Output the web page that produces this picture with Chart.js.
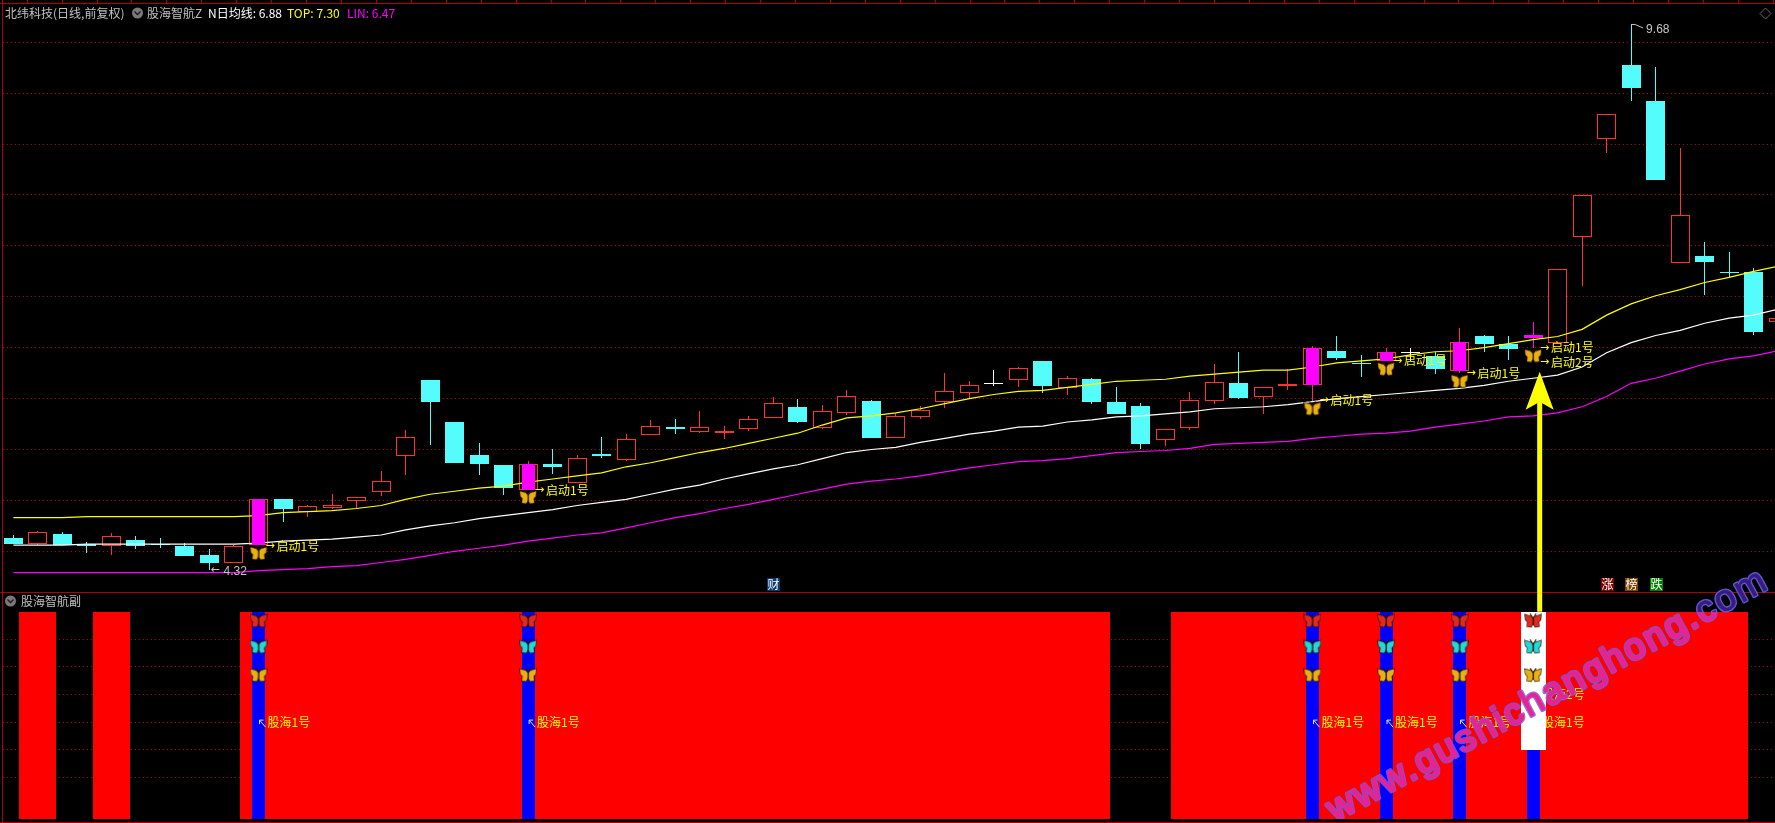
<!DOCTYPE html>
<html>
<head>
<meta charset="utf-8">
<title>北纬科技</title>
<style>
html, body { margin: 0; padding: 0; background: #000; overflow: hidden; }
canvas { display: block; }
</style>
<script src="https://cdn.jsdelivr.net/npm/chart.js@4/dist/chart.umd.js"></script>
</head>
<body>
<canvas id="kline" width="1775" height="823"></canvas>
<script>
const opens = [
    4.63, 4.57, 4.67, 4.57, 4.55, 4.61, 4.57, 4.55, 4.46, 4.38,
    4.56, 5.01, 4.89, 4.93, 4.99, 5.08, 5.44, 6.18, 5.77, 5.45,
    5.35, 5.10, 5.36, 5.17, 5.46, 5.40, 5.64, 5.72, 5.67, 5.66,
    5.70, 5.81, 5.92, 5.71, 5.86, 5.98, 5.61, 5.82, 5.97, 6.05,
    6.15, 6.18, 6.37, 6.10, 6.19, 5.97, 5.93, 5.59, 5.71, 5.98,
    6.15, 6.02, 6.12, 6.13, 6.47, 6.35, 6.37, 6.46, 6.42, 6.27,
    6.61, 6.54, 6.60, 6.55, 7.59, 8.55, 9.28, 8.92, 7.33, 7.40,
    7.24, 7.24, 6.75
];
const closes = [
    4.57, 4.69, 4.56, 4.55, 4.65, 4.55, 4.57, 4.45, 4.38, 4.55,
    5.01, 4.92, 4.94, 4.95, 5.03, 5.19, 5.62, 5.97, 5.37, 5.36,
    5.12, 5.36, 5.33, 5.42, 5.44, 5.60, 5.73, 5.70, 5.72, 5.68,
    5.80, 5.96, 5.77, 5.88, 6.03, 5.61, 5.83, 5.89, 6.07, 6.13,
    6.15, 6.30, 6.12, 6.20, 5.97, 5.85, 5.55, 5.70, 5.99, 6.16,
    6.01, 6.11, 6.14, 6.50, 6.40, 6.34, 6.46, 6.46, 6.29, 6.56,
    6.54, 6.49, 6.62, 7.27, 8.00, 8.80, 9.05, 8.15, 7.80, 7.34,
    7.24, 6.65, 6.79
];
const highs = [
    4.66, 4.70, 4.69, 4.59, 4.68, 4.65, 4.63, 4.58, 4.52, 4.56,
    5.01, 5.01, 4.95, 5.06, 5.03, 5.29, 5.69, 6.18, 5.77, 5.56,
    5.35, 5.39, 5.50, 5.45, 5.62, 5.65, 5.79, 5.80, 5.88, 5.73,
    5.83, 6.02, 6.00, 5.94, 6.08, 5.99, 5.86, 5.93, 6.25, 6.17,
    6.28, 6.31, 6.37, 6.22, 6.20, 6.11, 5.96, 5.70, 6.06, 6.34,
    6.46, 6.11, 6.29, 6.52, 6.61, 6.43, 6.50, 6.50, 6.46, 6.69,
    6.62, 6.61, 6.75, 7.27, 8.00, 8.80, 9.68, 9.26, 8.46, 7.54,
    7.44, 7.28, 6.79
];
const lows = [
    4.57, 4.56, 4.56, 4.48, 4.46, 4.52, 4.53, 4.45, 4.32, 4.38,
    4.56, 4.79, 4.84, 4.92, 4.92, 5.04, 5.25, 5.54, 5.37, 5.25,
    5.05, 5.10, 5.26, 5.17, 5.42, 5.39, 5.64, 5.65, 5.66, 5.60,
    5.68, 5.81, 5.76, 5.70, 5.84, 5.61, 5.61, 5.80, 5.91, 6.00,
    6.12, 6.11, 6.05, 6.04, 5.95, 5.85, 5.50, 5.53, 5.69, 5.95,
    6.00, 5.85, 6.08, 5.98, 6.38, 6.21, 6.37, 6.37, 6.24, 6.25,
    6.46, 6.38, 6.50, 6.55, 7.11, 8.41, 8.92, 8.15, 7.33, 7.02,
    7.19, 6.62, 6.75
];
const topLine = [
    4.83, 4.83, 4.83, 4.84, 4.84, 4.84, 4.84, 4.84, 4.84, 4.84,
    4.85, 4.88, 4.89, 4.90, 4.92, 4.95, 5.01, 5.06, 5.09, 5.12,
    5.14, 5.18, 5.21, 5.24, 5.27, 5.33, 5.37, 5.42, 5.47, 5.51,
    5.56, 5.61, 5.66, 5.74, 5.81, 5.83, 5.86, 5.90, 5.95, 6.00,
    6.04, 6.07, 6.08, 6.11, 6.14, 6.17, 6.18, 6.19, 6.22, 6.24,
    6.26, 6.28, 6.28, 6.31, 6.35, 6.37, 6.39, 6.43, 6.46, 6.47,
    6.50, 6.54, 6.58, 6.61, 6.68, 6.82, 6.93, 7.01, 7.07, 7.14,
    7.19, 7.25, 7.30
];
const maLine = [
    4.56, 4.56, 4.56, 4.57, 4.57, 4.57, 4.57, 4.57, 4.57, 4.57,
    4.58, 4.60, 4.61, 4.62, 4.64, 4.66, 4.71, 4.75, 4.78, 4.82,
    4.85, 4.88, 4.91, 4.95, 4.98, 5.01, 5.06, 5.11, 5.15, 5.21,
    5.26, 5.31, 5.35, 5.41, 5.47, 5.50, 5.52, 5.57, 5.61, 5.65,
    5.68, 5.72, 5.73, 5.77, 5.79, 5.82, 5.83, 5.85, 5.87, 5.90,
    5.91, 5.92, 5.94, 5.97, 6.00, 6.02, 6.04, 6.06, 6.08, 6.10,
    6.13, 6.17, 6.20, 6.23, 6.31, 6.45, 6.55, 6.62, 6.67, 6.74,
    6.79, 6.82, 6.88
];
const linLine = [
    4.29, 4.29, 4.29, 4.29, 4.29, 4.29, 4.29, 4.29, 4.29, 4.29,
    4.31, 4.32, 4.33, 4.35, 4.36, 4.39, 4.42, 4.46, 4.50, 4.53,
    4.56, 4.60, 4.63, 4.66, 4.68, 4.73, 4.78, 4.83, 4.87, 4.92,
    4.96, 5.01, 5.06, 5.11, 5.16, 5.19, 5.21, 5.24, 5.28, 5.32,
    5.35, 5.38, 5.39, 5.41, 5.44, 5.47, 5.48, 5.49, 5.51, 5.55,
    5.56, 5.57, 5.58, 5.61, 5.63, 5.65, 5.66, 5.68, 5.72, 5.75,
    5.78, 5.82, 5.83, 5.86, 5.92, 6.02, 6.15, 6.20, 6.27, 6.34,
    6.39, 6.42, 6.47
];
const whiteDays = [40, 57];
const signalDays = [10, 21, 53, 56, 59];
const flyDays = [10, 21, 53, 56, 59, 62];
const flyPrices = [4.48, 5.03, 5.90, 6.29, 6.17, 6.42];
const qidongDays = [10, 21, 53, 56, 59, 62, 62];
const qidongPrices = [4.55, 5.10, 5.98, 6.37, 6.25, 6.50, 6.36];
const qidongTexts = ['启动1号', '启动1号', '启动1号', '启动1号', '启动1号', '启动1号', '启动2号'];

const redDays = [
    1, 4,
    10, 11, 12, 13, 14, 15, 16, 17, 18, 19, 20, 21, 22, 23, 24, 25, 26, 27,
    28, 29, 30, 31, 32, 33, 34, 35, 36, 37, 38, 39, 40, 41, 42, 43, 44,
    48, 49, 50, 51, 52, 53, 54, 55, 56, 57, 58, 59, 60, 61, 62, 63, 64, 65,
    66, 67, 68, 69, 70
];
const blueDays = [10, 21, 53, 56, 59, 62];
const whiteBoxDays = [62];
const redFlyLevel = 6.67, cyanFlyLevel = 5.73, goldFlyLevel = 4.70;
const guhaiDays = [10, 21, 53, 56, 59, 62, 62];
const guhaiLevels = [3, 3, 3, 3, 3, 3, 4];
const guhaiTexts = ['股海1号', '股海1号', '股海1号', '股海1号', '股海1号', '股海1号', '股海2号'];
const badgeDays = [31, 65, 66, 67];
const badgeTexts = ['财', '涨', '榜', '跌'];
const badgeColors = ['#0a3a70', '#800000', '#804000', '#008000'];

const RED = '#ff3232', CYAN = '#54fcfc', MAGENTA = '#ff00ff', YELLOW = '#ffff00';
const AXIS_RED = '#b00000', GRID_RED = '#b00000';
const CJK = '12px "Noto Sans CJK SC", sans-serif';

const dayIndex = opens.map((v, i) => i);

function butterfly(color) {
    const c = document.createElement('canvas');
    c.width = 18; c.height = 15;
    const g = c.getContext('2d');
    g.strokeStyle = '#2a1400';
    g.fillStyle = color;
    g.lineWidth = 1.3;
    [1, -1].forEach(s => {
        g.save();
        g.translate(9, 0);
        g.scale(s, 1);
        g.beginPath();
        g.moveTo(0, 5.5);
        g.lineTo(2.5, 3);
        g.lineTo(8, 1.5);
        g.lineTo(7.5, 6.5);
        g.lineTo(5.5, 8.5);
        g.lineTo(6, 13);
        g.lineTo(2, 13.5);
        g.lineTo(0, 10);
        g.closePath();
        g.stroke();
        g.fill();
        g.beginPath();
        g.moveTo(0, 5);
        g.lineTo(3, 0.5);
        g.stroke();
        g.restore();
    });
    g.fillStyle = '#2a1400';
    g.fillRect(8.5, 4, 1, 8);
    return c;
}

function bar(label, order, yAxisID, width, data, bg, border, borderW) {
    return {
        type: 'bar', label, order, yAxisID, data,
        barThickness: width,
        grouped: false,
        inflateAmount: 0,
        backgroundColor: bg,
        borderColor: border || bg,
        borderWidth: borderW || 0,
        borderSkipped: false
    };
}

function line(label, order, data, color) {
    return {
        type: 'line', label, order,
        yAxisID: 'y',
        data: data.map((v, i) => ({ x: i, y: v })),
        borderColor: color,
        borderWidth: 1.2,
        pointRadius: 0,
        tension: 0
    };
}

function flies(label, order, yAxisID, data, color) {
    return {
        type: 'scatter', label, order, yAxisID, data,
        pointStyle: butterfly(color),
        pointRadius: 8
    };
}

function upColor(i) {
    if (i === 62) return MAGENTA;
    if (whiteDays.includes(i)) return '#ffffff';
    return closes[i] > opens[i] ? RED : CYAN;
}

// candles sit on whole pixels like the terminal draws them
const snapBars = {
    id: 'snapBars',
    afterDatasetsUpdate(chart) {
        chart.getSortedVisibleDatasetMetas().forEach(meta => {
            if (meta.type !== 'bar') return;
            meta.data.forEach(el => {
                el.x = Math.floor(el.x) + 0.5;
                el.y = Math.round(el.y);
                el.base = Math.round(el.base);
                if (el.y === el.base) el.base = el.y + 1;
                el.height = el.base - el.y;
            });
        });
    }
};

function drawGuhai(chart) {
    const ctx = chart.ctx, xs = chart.scales.x, ys = chart.scales.y2;
    ctx.save();
    ctx.textBaseline = 'middle';
    guhaiDays.forEach((d, i) => {
        const px = xs.getPixelForValue(d), py = ys.getPixelForValue(guhaiLevels[i]);
        ctx.font = CJK;
        ctx.fillStyle = YELLOW;
        ctx.fillText(guhaiTexts[i], px + 9, py);
        ctx.strokeStyle = '#d8e8ff';
        ctx.lineWidth = 1;
        ctx.beginPath();
        ctx.moveTo(px + 7, py + 5);
        ctx.lineTo(px + 1, py - 2);
        ctx.moveTo(px + 1, py - 2);
        ctx.lineTo(px + 1, py + 2);
        ctx.moveTo(px + 1, py - 2);
        ctx.lineTo(px + 5, py - 2);
        ctx.stroke();
    });
    ctx.restore();
}

function drawChrome(chart) {
    const ctx = chart.ctx, W = chart.width;
    ctx.save();
    ctx.fillStyle = AXIS_RED;
    ctx.fillRect(2, 0, 1, 823);
    ctx.fillRect(0, 3, W, 1);
    ctx.fillRect(0, 592, W, 1);
    ctx.fillRect(0, 822, W, 1);
    for (let x = 26.7; x < W; x += 34.92) ctx.fillRect(Math.round(x), 0, 1, 3);

    ctx.strokeStyle = '#666';
    ctx.beginPath();
    ctx.moveTo(1765.5, 8); ctx.lineTo(1771, 13.5); ctx.lineTo(1765.5, 19); ctx.lineTo(1760, 13.5);
    ctx.closePath();
    ctx.stroke();

    [[137.5, 13], [10.5, 601]].forEach(p => {
        ctx.fillStyle = '#7a7a7a';
        ctx.beginPath();
        ctx.arc(p[0], p[1], 5.5, 0, Math.PI * 2);
        ctx.fill();
        ctx.strokeStyle = '#1a1a1a';
        ctx.lineWidth = 1.3;
        ctx.beginPath();
        ctx.moveTo(p[0] - 3, p[1] - 1.5); ctx.lineTo(p[0], p[1] + 1.5); ctx.lineTo(p[0] + 3, p[1] - 1.5);
        ctx.stroke();
    });

    ctx.textBaseline = 'middle';
    ctx.font = CJK;
    ctx.fillStyle = '#c0c0c0';
    ctx.fillText('北纬科技(日线,前复权)', 5, 13);
    ctx.fillText('股海智航Z', 147, 13);
    ctx.fillText('股海智航副', 21, 601);
    ctx.fillStyle = '#ffffff';
    ctx.fillText('N日均线: ' + maLine[maLine.length - 1].toFixed(2), 208, 13);
    ctx.fillStyle = YELLOW;
    ctx.fillText('TOP: ' + topLine[topLine.length - 1].toFixed(2), 287, 13);
    ctx.fillStyle = MAGENTA;
    ctx.fillText('LIN: ' + linLine[linLine.length - 1].toFixed(2), 347, 13);
    ctx.restore();
}

function drawMainLabels(chart) {
    const ctx = chart.ctx, xs = chart.scales.x, ys = chart.scales.y;
    ctx.save();
    ctx.textBaseline = 'middle';
    qidongDays.forEach((d, i) => {
        const px = xs.getPixelForValue(d), py = ys.getPixelForValue(qidongPrices[i]);
        ctx.font = '11px "DejaVu Sans", sans-serif';
        ctx.fillStyle = YELLOW;
        ctx.fillText('→', px + 7, py);
        ctx.font = CJK;
        ctx.fillText(qidongTexts[i], px + 18, py);
    });

    // marks for lowest and highest price
    const loDay = lows.indexOf(Math.min(...lows)), hiDay = highs.indexOf(Math.max(...highs));
    const grey = '#c4c4c4';
    ctx.fillStyle = grey;
    ctx.font = '11px "DejaVu Sans", sans-serif';
    ctx.fillText('←', xs.getPixelForValue(loDay) + 1, ys.getPixelForValue(lows[loDay]) + 1);
    ctx.font = '12px "Liberation Sans", sans-serif';
    ctx.fillText(lows[loDay].toFixed(2), xs.getPixelForValue(loDay) + 14, ys.getPixelForValue(lows[loDay]) + 2);
    const hx = xs.getPixelForValue(hiDay), hy = ys.getPixelForValue(highs[hiDay]);
    ctx.strokeStyle = grey;
    ctx.lineWidth = 1;
    ctx.beginPath();
    ctx.moveTo(hx, hy + 0.5); ctx.lineTo(hx + 4, hy + 0.5); ctx.lineTo(hx + 12, hy + 4);
    ctx.stroke();
    ctx.fillText(highs[hiDay].toFixed(2), hx + 15, hy + 6);

    badgeDays.forEach((d, i) => {
        const px = Math.round(xs.getPixelForValue(d)) + 1;
        ctx.fillStyle = badgeColors[i];
        ctx.fillRect(px - 7, 578, 13, 13);
        ctx.fillStyle = '#ffffff';
        ctx.font = CJK;
        ctx.textAlign = 'center';
        ctx.fillText(badgeTexts[i], px - 0.5, 584.5);
        ctx.textAlign = 'left';
    });
    ctx.restore();
}

function drawArrow(chart) {
    const ctx = chart.ctx, xs = chart.scales.x;
    const px = xs.getPixelForValue(62.27);
    const tip = chart.scales.y.getPixelForValue(6.264);
    const tail = chart.scales.y2.getPixelForValue(7);
    ctx.save();
    ctx.fillStyle = YELLOW;
    ctx.fillRect(px - 2.5, tip + 30, 5, tail - tip - 30);
    ctx.beginPath();
    ctx.moveTo(px, tip);
    ctx.lineTo(px + 14, tip + 38);
    ctx.lineTo(px, tip + 30);
    ctx.lineTo(px - 14, tip + 38);
    ctx.closePath();
    ctx.fill();
    ctx.restore();
}

function watermarkPass(ctx, fill, edge) {
    ctx.save();
    ctx.translate(1335, 822);
    ctx.rotate(-28.3 * Math.PI / 180);
    ctx.font = '37px "Liberation Sans", sans-serif';
    ctx.letterSpacing = '2.5px';
    ctx.lineJoin = 'round';
    ctx.strokeStyle = edge;
    ctx.lineWidth = 3.5;
    ctx.strokeText('www.gushichanghong.com', 0, 0);
    ctx.strokeStyle = fill;
    ctx.lineWidth = 0.8;
    ctx.strokeText('www.gushichanghong.com', 0, 0);
    ctx.fillStyle = fill;
    ctx.fillText('www.gushichanghong.com', 0, 0);
    ctx.restore();
}

function drawWatermark(chart) {
    const ctx = chart.ctx;
    const redRight = chart.scales.x.getPixelForValue(70) + 18.5;
    // on red it reads hot pink, on black dark indigo
    ctx.save();
    ctx.beginPath();
    ctx.rect(0, 612, redRight, 207);
    ctx.clip();
    watermarkPass(ctx, '#ee2090', 'rgba(120,90,230,0.85)');
    ctx.restore();
    ctx.save();
    ctx.beginPath();
    ctx.rect(0, 0, 1775, 612);
    ctx.rect(redRight, 612, 1775, 211);
    ctx.clip();
    watermarkPass(ctx, '#3a1a80', '#5a5ad0');
    ctx.restore();
}

const panelText = {
    id: 'panelText',
    afterDatasetDraw(chart, args) {
        if (chart.data.datasets[args.index].label === 'blue') drawGuhai(chart);
    },
    afterDatasetsDraw(chart) {
        drawMainLabels(chart);
        drawChrome(chart);
        drawArrow(chart);
        drawWatermark(chart);
    }
};

const blackBg = {
    id: 'blackBg',
    beforeDraw(chart) {
        chart.ctx.fillStyle = '#000';
        chart.ctx.fillRect(0, 0, chart.width, chart.height);
    }
};

const gridOpts = {
    color: c => (c.tick && (c.tick.value < 0.5 || c.tick.value > 6.5) && c.scale.id === 'y2') ? 'rgba(0,0,0,0)' : GRID_RED,
    drawTicks: false,
    lineWidth: 1
};

new Chart(document.getElementById('kline'), {
    type: 'bar',
    data: {
        datasets: [
            // lower order is painted later
            bar('wick', 90, 'y', 1, dayIndex.map(i => ({ x: i, y: [lows[i], highs[i]] })), dayIndex.map(upColor)),
            bar('body', 80, 'y', 19, dayIndex.map(i => ({ x: i, y: [opens[i], closes[i]] })),
                dayIndex.map(i => closes[i] > opens[i] && i !== 62 ? '#000' : upColor(i)),
                dayIndex.map(upColor),
                dayIndex.map(i => closes[i] > opens[i] && i !== 62 ? 1 : 0)),
            line('LIN', 72, linLine, MAGENTA),
            line('N', 71, maLine, '#ffffff'),
            line('TOP', 70, topLine, YELLOW),
            bar('signal', 60, 'y', 13, signalDays.map(d => ({ x: d, y: [opens[d], closes[d]] })), MAGENTA),
            flies('fly', 50, 'y', flyDays.map((d, i) => ({ x: d, y: flyPrices[i] })), '#e8b010'),
            bar('red', 40, 'y2', 37, redDays.map(d => ({ x: d, y: [-0.5, 7] })), '#ff0000'),
            bar('blue', 30, 'y2', 13, blueDays.map(d => ({ x: d, y: [-0.5, 7] })), '#0000ff'),
            bar('whitebox', 20, 'y2', 25, whiteBoxDays.map(d => ({ x: d, y: [2, 7] })), '#ffffff'),
            flies('flyRed', 10, 'y2', blueDays.map(d => ({ x: d, y: redFlyLevel })), '#e02a20'),
            flies('flyCyan', 9, 'y2', blueDays.map(d => ({ x: d, y: cyanFlyLevel })), '#20d8d8'),
            flies('flyGold', 8, 'y2', blueDays.map(d => ({ x: d, y: goldFlyLevel })), '#e8b010')
        ]
    },
    options: {
        responsive: false,
        animation: false,
        events: [],
        layout: { autoPadding: false, padding: { left: 3, right: 0, top: 3, bottom: 1 } },
        plugins: { legend: { display: false }, tooltip: { enabled: false } },
        scales: {
            x: {
                type: 'linear',
                display: false,
                offset: false,
                min: -0.424,
                max: 71.87,
                grid: { display: false }
            },
            y: {
                type: 'linear',
                stack: 'panels',
                stackWeight: 589,
                weight: 2,
                min: 4.1,
                max: 9.886,
                grid: gridOpts,
                border: { display: false, dash: [1, 3] },
                ticks: { display: false, stepSize: 0.5, includeBounds: false, autoSkip: false }
            },
            y2: {
                type: 'linear',
                stack: 'panels',
                stackWeight: 230,
                weight: 1,
                min: -0.62,
                max: 7.714,
                grid: gridOpts,
                border: { display: false, dash: [1, 3] },
                ticks: { display: false, stepSize: 1, includeBounds: false, autoSkip: false }
            }
        }
    },
    plugins: [blackBg, snapBars, panelText]
});
</script>
</body>
</html>
